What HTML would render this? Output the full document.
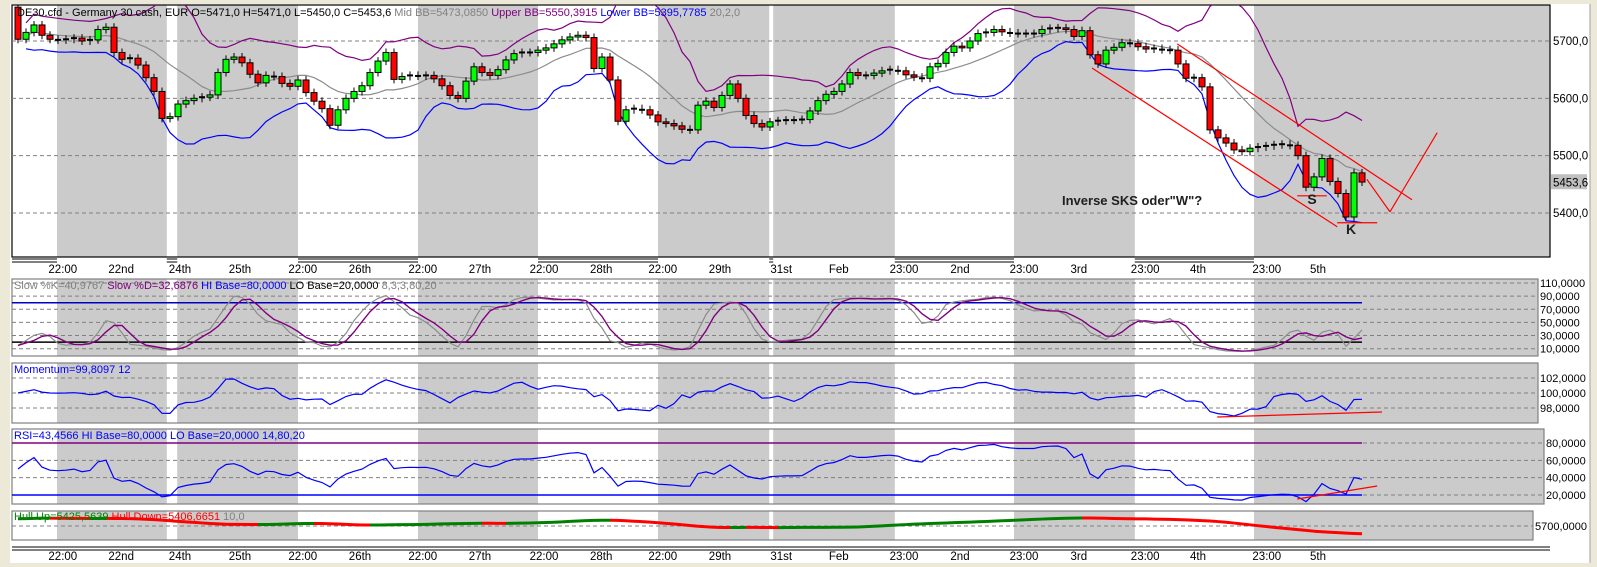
<!DOCTYPE html>
<html><head><meta charset="utf-8"><style>
html,body{margin:0;padding:0;background:#ece9d8;}
svg{display:block;font-family:"Liberation Sans",sans-serif;}
</style></head><body>
<svg id="chart" width="1597" height="567" viewBox="0 0 1597 567" xmlns="http://www.w3.org/2000/svg">
<rect x="0" y="0" width="1597" height="567" fill="#ece9d8"/>
<rect x="10" y="4" width="1580" height="559" fill="#ffffff"/>
<line x1="1590" y1="4" x2="1590" y2="563" stroke="#a0a0a0"/>
<defs>
<clipPath id="cMain"><rect x="12" y="5" width="1538" height="252"/></clipPath>
<clipPath id="cSto"><rect x="12" y="279" width="1526" height="77"/></clipPath>
<clipPath id="cMom"><rect x="12" y="363" width="1526" height="60"/></clipPath>
<clipPath id="cRsi"><rect x="12" y="429" width="1532" height="75"/></clipPath>
<clipPath id="cHull"><rect x="12" y="511" width="1521" height="29"/></clipPath>
</defs>
<g id="layer"></g>
</svg>
<script>
const closes=[5703,5715,5728,5710,5703,5702,5703,5705,5700,5702,5720,5724,5680,5668,5670,5658,5636,5612,5565,5568,
5590,5596,5600,5602,5606,5645,5668,5672,5662,5642,5627,5640,5638,5626,5621,5632,5610,5595,5582,5553,
5580,5600,5612,5622,5645,5665,5680,5633,5638,5640,5639,5640,5634,5622,5605,5600,5630,5655,5645,5640,
5650,5667,5678,5680,5680,5684,5688,5695,5702,5707,5710,5706,5652,5672,5632,5560,5580,5582,5580,5571,
5559,5556,5552,5546,5545,5588,5595,5584,5605,5625,5600,5570,5556,5550,5559,5561,5562,5562,5563,5578,
5596,5607,5612,5625,5645,5640,5640,5644,5648,5650,5648,5641,5637,5635,5655,5661,5680,5691,5688,5700,
5713,5715,5720,5716,5714,5713,5713,5713,5720,5722,5723,5720,5708,5718,5676,5660,5684,5689,5697,5696,
5690,5686,5687,5685,5684,5660,5635,5636,5620,5545,5531,5522,5510,5507,5513,5515,5517,5519,5520,5518,
5500,5445,5463,5495,5455,5434,5393,5470,5454];
const firstOpen=5759;
const priceTicks=[5700,5600,5500,5400];
const tickLabels=["22:00","22nd","24th","25th","22:00","26th","22:00","27th","22:00","28th","22:00","29th","31st","Feb","23:00","2nd","23:00","3rd","23:00","4th","23:00","5th"];
const tickBars=[5.6,12.9,20.25,27.75,35.6,42.75,50.6,57.75,65.75,72.9,80.6,87.75,95.4,102.6,110.75,117.75,125.75,132.6,140.9,147.5,156.1,162.5];
const sessionStart=[4.875,19.9,50,80,94.4,124.5,154.5];
const sessionEnd=[18.6,35,65,93.9,109.6,139.6,200];
const stoTicks=[110,90,70,50,30,10];
const momTicks=[102,100,98];
const rsiTicks=[80,60,40,20];

const NS="http://www.w3.org/2000/svg";
const layer=document.getElementById('layer');
function el(tag,attrs,parent){const e=document.createElementNS(NS,tag);for(const k in attrs)e.setAttribute(k,attrs[k]);(parent||layer).appendChild(e);return e;}
const xs=i=>18+i*8;
const yP=p=>41+(5700-p)*0.5733;
const yS=v=>283+(110-v)*0.657;
const yM=v=>393-(v-100)*7.5;
const yR=v=>443+(80-v)*0.867;
const yH=v=>536-(v-5450)*0.068;

const panels=[
 {name:'price-panel',top:5,bot:257,right:1550,border:'#000'},
 {name:'stochastic-panel',top:279,bot:356,right:1538,border:'#808080'},
 {name:'momentum-panel',top:363,bot:423,right:1538,border:'#808080'},
 {name:'rsi-panel',top:429,bot:504,right:1544,border:'#808080'},
 {name:'hull-panel',top:511,bot:540,right:1533,border:'#808080'}
];
panels.forEach(p=>{
 const g=el('g',{});
 
 
 for(let k=0;k<sessionStart.length;k++){
  const x1=Math.max(12,xs(sessionStart[k])),x2=Math.min(p.right,xs(sessionEnd[k]));
  const r=el('rect',{x:x1,y:p.top,width:x2-x1,height:p.bot-p.top,fill:'#cbcbcb'},g);
  
  
 }
 el('rect',{x:12,y:p.top,width:p.right-12,height:p.bot-p.top,fill:'none',stroke:p.border,'stroke-width':1.2},g);
});
function dashed(y,x2){el('line',{x1:12,y1:y,x2:x2,y2:y,stroke:'#808080','stroke-dasharray':'4,3','stroke-width':1});}
function label(x,y,t,col,anchor,size,weight){const e=el('text',{x:x,y:y,fill:col||'#000','font-size':size||11,'text-anchor':anchor||'start','font-weight':weight||'normal'});e.textContent=t;return e;}

priceTicks.forEach(p=>{dashed(yP(p),1550);const t=label(1553,yP(p)+4,p.toFixed(1).replace('.',','),'#000','start',11.5);});
stoTicks.forEach(v=>{dashed(yS(v),1538);const t=label(1540,yS(v)+4,v.toFixed(4).replace('.',','));});
momTicks.forEach(v=>{dashed(yM(v),1538);const t=label(1540,yM(v)+4,v.toFixed(4).replace('.',','));});
rsiTicks.forEach(v=>{dashed(yR(v),1544);const t=label(1546,yR(v)+4,v.toFixed(4).replace('.',','));});
dashed(526,1533);
{const t=label(1535,530,'5700,0000');}

[[259,262],[547,550]].forEach((ys,ai)=>{
 if(ai===1){ys.forEach(y=>el('line',{x1:12,y1:y,x2:1550,y2:y,stroke:'#000'}));}
 else{
  let prev=12;
  for(let k=0;k<sessionStart.length;k++){const s=xs(sessionStart[k]);ys.forEach(y=>el('line',{x1:prev,y1:y,x2:s,y2:y,stroke:'#000'}));prev=xs(sessionEnd[k]);}
 }
});
tickLabels.forEach((t,k)=>{
 const a=label(xs(tickBars[k]),273,t,'#000','middle',11.5);
 
 
 const b=label(xs(tickBars[k]),560,t,'#000','middle',11.5);
 
 
});

const n=closes.length;
function sma(a,p,i){let s=0,c=0;for(let j=Math.max(0,i-p+1);j<=i;j++){s+=a[j];c++;}return s/c;}
const mid=[],up=[],lo=[];
for(let i=0;i<n;i++){const m=sma(closes,12,i);let v=0,c=0;for(let j=Math.max(0,i-11);j<=i;j++){v+=(closes[j]-m)**2;c++;}const sd=Math.sqrt(v/c);mid.push(m);up.push(m+2.1*sd+10);lo.push(m-2.1*sd-10);}
function poly(arr,fx,fy,col,w,clip,name,start){
 let d='';for(let i=start||0;i<arr.length;i++){if(arr[i]==null)continue;d+=(d?'L':'M')+fx(i).toFixed(1)+','+fy(arr[i]).toFixed(1);}
 const p=el('path',{d:d,fill:'none',stroke:col,'stroke-width':w||1,'clip-path':'url(#'+clip+')'});
 
 
 return p;
}
poly(up,xs,yP,'#800080',1.2,'cMain','upper-bollinger-band',1);
poly(mid,xs,yP,'#8c8c8c',1.2,'cMain','mid-bollinger-band',1);
poly(lo,xs,yP,'#0000ff',1.2,'cMain','lower-bollinger-band',1);

const cg=el('g',{'clip-path':'url(#cMain)'});
for(let i=0;i<n;i++){
 const o=i?closes[i-1]:firstOpen,c=closes[i];
 const x=xs(i),yo=yP(o),yc=yP(c),top=Math.min(yo,yc),bot=Math.max(yo,yc);
 const w=el('line',{x1:x,y1:top-4,x2:x,y2:bot+4,stroke:'#000','stroke-width':1},cg);
 
 
 if(bot-top<1.5){
  const b=el('line',{x1:x-3,y1:yc,x2:x+3,y2:yc,stroke:'#000','stroke-width':2},cg);
  
  
 }else{
  const b=el('rect',{x:x-3,y:top,width:6,height:bot-top,fill:c>o?'#00ff00':'#ff0000',stroke:'#000','stroke-width':1},cg);
  
  
 }
}

// stochastic
const rawK=[];for(let i=0;i<n;i++){let hi=-1e9,lw=1e9;for(let j=Math.max(0,i-8);j<=i;j++){const o=j?closes[j-1]:firstOpen;hi=Math.max(hi,closes[j],o);lw=Math.min(lw,closes[j],o);}hi+=12;lw-=12;rawK.push((closes[i]-lw)/(hi-lw)*100);}
const slowK=rawK.map((v,i)=>sma(rawK,3,i));
const slowD=slowK.map((v,i)=>sma(slowK,3,i));
const hl1=el('line',{x1:12,y1:yS(80),x2:xs(n-1),y2:yS(80),stroke:'#0000c0','stroke-width':1.5});
const hl2=el('line',{x1:12,y1:yS(20),x2:xs(n-1),y2:yS(20),stroke:'#000','stroke-width':1.5});
poly(slowK,xs,yS,'#8c8c8c',1.2,'cSto','stoch-slow-k');
poly(slowD,xs,yS,'#800080',1.4,'cSto','stoch-slow-d');

const mom=closes.map((c,i)=>100*c/closes[Math.max(0,i-8)]);
poly(mom,xs,yM,'#0000ff',1.2,'cMom','momentum-line');

const rsi=[];{let ag=3,al=3;for(let i=0;i<n;i++){const ch=i?closes[i]-closes[i-1]:0;const g=Math.max(ch,0),l=Math.max(-ch,0);ag=(ag*13+g)/14;al=(al*13+l)/14;rsi.push(100-100/(1+ag/(al||0.01)));}}
const r1=el('line',{x1:12,y1:yR(80),x2:xs(n-1),y2:yR(80),stroke:'#800080','stroke-width':1.5});
const r2=el('line',{x1:12,y1:yR(20),x2:xs(n-1),y2:yR(20),stroke:'#0000ff','stroke-width':1.5});
poly(rsi,xs,yR,'#0000ff',1.2,'cRsi','rsi-line');

function wma(a,p,i){let s=0,w=0;for(let k=0;k<p;k++){const j=Math.max(0,i-k);s+=a[j]*(p-k);w+=p-k;}return s/w;}
const d2=closes.map((c,i)=>sma(closes,14,i));
const hull=d2.map((v,i)=>wma(d2,4,i));
const hg=el('g',{'clip-path':'url(#cHull)'});
for(let i=1;i<n;i++){
 const s=el('line',{x1:xs(i-1),y1:yH(hull[i-1]),x2:xs(i),y2:yH(hull[i]),stroke:hull[i]>=hull[i-1]?'#008000':'#ff0000','stroke-width':3},hg);
 
 
}

function aLine(i1,v1,i2,v2,fy,name){const l=el('line',{x1:xs(i1),y1:fy(v1),x2:xs(i2),y2:fy(v2),stroke:'#ff0000','stroke-width':1.2});}
aLine(134.25,5653,164.9,5376,yP,'channel-lower-line');
aLine(144.9,5695,174.25,5423,yP,'channel-upper-line');
aLine(168.6,5459,171.5,5402,yP,'projection-down-line');
aLine(171.5,5402,177.4,5540,yP,'projection-up-line');
aLine(159.9,5430,163.6,5430,yP,'shoulder-line');
aLine(164.9,5383,169.9,5383,yP,'head-line');
aLine(149.9,96.8,170.5,97.47,yM,'momentum-trend-line');
aLine(159.9,15.4,169.9,30.4,yR,'rsi-trend-line');
{const t=label(1062,205,'Inverse SKS oder"W"?','#202020','start',13,'bold');}
{const t=label(1312,204,'S','#202020','middle',14,'bold');}
{const t=label(1351,234,'K','#202020','middle',14,'bold');}

const pb=el('rect',{x:1551,y:yP(5453.6)-8,width:36,height:15,fill:'#c0c0c0'});
label(1553,yP(5453.6)+4,'5453,6','#000','start',11.5);

function header(x,y,parts,name){const t=el('text',{x:x,y:y,'font-size':11});parts.forEach(p=>{const s=el('tspan',{fill:p[1]},t);s.textContent=p[0];});}
header(17,16,[['DE30.cfd - Germany 30 cash, EUR O=5471,0 H=5471,0 L=5450,0 C=5453,6   ','#000'],['Mid BB=5473,0850 ','#808080'],['Upper BB=5550,3915 ','#800080'],['Lower BB=5395,7785 ','#0000ff'],[' 20,2,0','#808080']],'price-header');
header(14,289,[['Slow %K=40,9767 ','#808080'],['Slow %D=32,6876 ','#800080'],['HI Base=80,0000 ','#0000ff'],['LO Base=20,0000 ','#000'],[' 8,3,3,80,20','#808080']],'stoch-header');
header(14,373,[['Momentum=99,8097  12','#0000ff']],'momentum-header');
header(14,439,[['RSI=43,4566 HI Base=80,0000 LO Base=20,0000  14,80,20','#0000ff']],'rsi-header');
header(14,520,[['Hull Up=5425,5639 ','#008000'],['Hull Down=5406,6651 ','#ff0000'],[' 10,0','#808080']],'hull-header');
</script>
</body></html>
